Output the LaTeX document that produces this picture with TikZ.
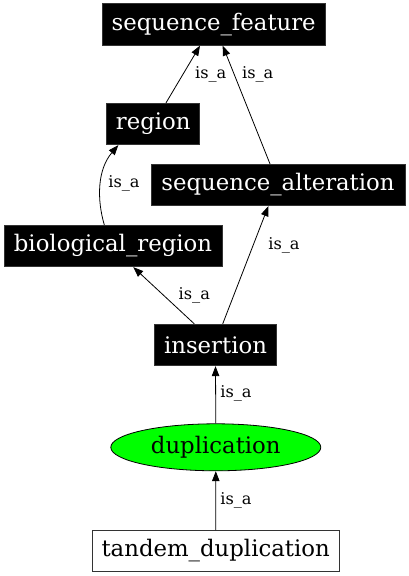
\documentclass[tikz,border=0pt]{standalone}
\usepackage{fontspec}
\setmainfont{DejaVu Serif}
\usetikzlibrary{arrows.meta,calc,shapes.geometric}
\begin{document}
\begin{tikzpicture}[x=1pt,y=-1pt,
  blackbox/.style={draw=black!80,line width=0.8pt,fill=black,text=white,inner sep=0pt,minimum height=41.5pt,font=\fontsize{22.8}{27}\selectfont},
  whitebox/.style={draw=black!80,line width=0.8pt,fill=white,text=black,inner sep=0pt,minimum height=41pt,font=\fontsize{22.8}{27}\selectfont},
  greenell/.style={ellipse,draw=black,line width=0.8pt,fill=green,inner sep=0pt,minimum width=210pt,minimum height=47pt,font=\fontsize{22.8}{27}\selectfont},
  isa/.style={-{Triangle[length=10pt,width=7.5pt]},line width=0.8pt},
  lbl/.style={font=\fontsize{16.2}{19}\selectfont,inner sep=0pt}]
\useasboundingbox (0,0) rectangle (409,576);
\node[blackbox,minimum width=223pt] (sf) at (213.7,24.5) {sequence\_feature};
\node[blackbox,minimum width=93pt] (reg) at (153.3,124) {region};
\node[blackbox,minimum width=254pt] (sa) at (278,185) {sequence\_alteration};
\node[blackbox,minimum width=218pt] (br) at (113,246) {biological\_region};
\node[blackbox,minimum width=122pt] (ins) at (215.5,345) {insertion};
\node[greenell] (dup) at (215.8,447.3) {duplication};
\node[whitebox,minimum width=247pt] (td) at (215.7,551) {tandem\_duplication};
% edges
\draw[isa] ($(reg.north)+(12.7,0)$) -- ($(sf.south)+(-13.7,0)$);
\node[lbl] (l1) at (210.7,74) {is\_a};
\draw[isa] ($(sa.north)+(-8,0)$) -- ($(sf.south)+(9,0)$);
\node[lbl] (l2) at (257.7,74) {is\_a};
\draw[isa] ($(br.north)+(-8.7,0)$) .. controls (97,200) and (97,170) .. ($(reg.south)+(-35,0)$);
\node[lbl] (l3) at (124,183) {is\_a};
\draw[isa] ($(ins.north)+(-21.2,0)$) -- ($(br.south)+(20.3,0)$);
\node[lbl] (l4) at (194.3,295) {is\_a};
\draw[isa] ($(ins.north)+(7.2,0)$) -- ($(sa.south)+(-9.7,0)$);
\node[lbl] (l5) at (284,245) {is\_a};
\draw[isa] (dup.north) -- (ins.south);
\node[lbl] (l6) at (236,393) {is\_a};
\draw[isa] (td.north) -- (dup.south);
\node[lbl] (l7) at (236,500) {is\_a};
\end{tikzpicture}
\end{document}
